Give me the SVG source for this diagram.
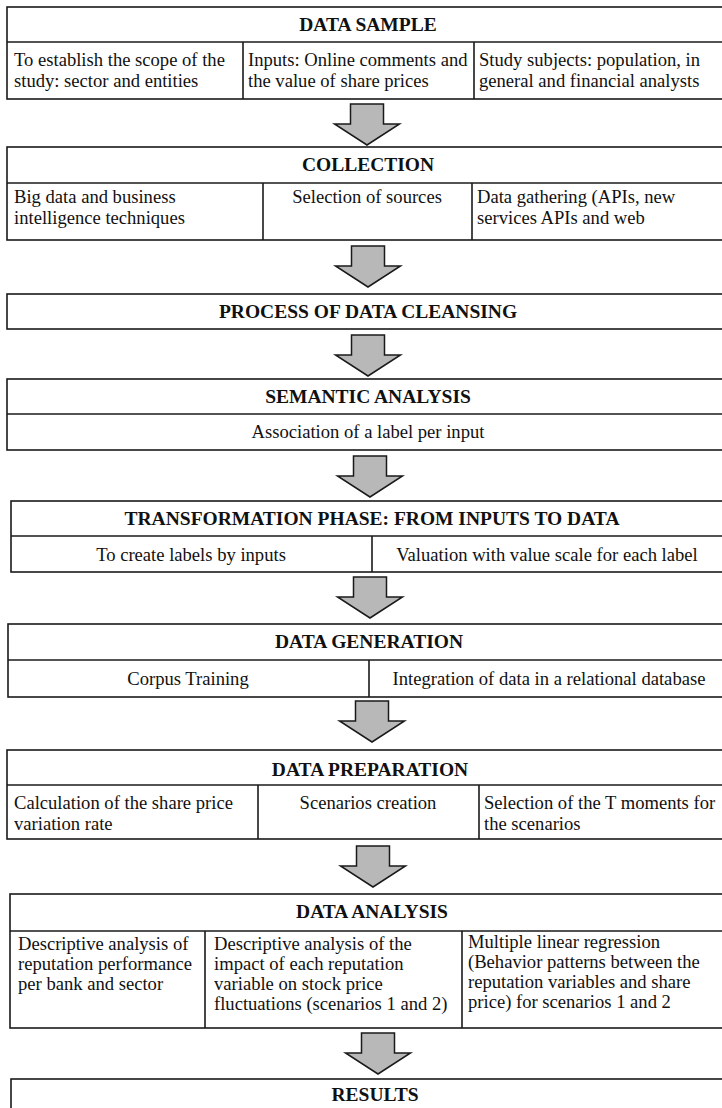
<svg xmlns="http://www.w3.org/2000/svg" width="722" height="1108" viewBox="0 0 722 1108">
<style>
.box{fill:#fff;stroke:#1a1a1a;stroke-width:1.6}
.ln{stroke:#1a1a1a;stroke-width:1.6;fill:none}
.hd{font-family:'Liberation Serif','Tinos','DejaVu Serif',serif;font-size:19.5px;font-weight:bold;fill:#111;text-anchor:middle}
.tx{font-family:'Liberation Serif','Tinos','DejaVu Serif',serif;font-size:18.6px;fill:#111}
.c{text-anchor:middle}
.arr{fill:#b8b8b8;stroke:#1a1a1a;stroke-width:1.5;stroke-linejoin:miter}
</style>
<rect width="722" height="1108" fill="#fff"/>
<defs>
<path id="arrow" d="M-16.5,0 H16.5 V20 H32.5 L0,41 L-32.5,20 H-16.5 Z"/>
</defs>

<g id="data-sample">
<rect class="box" x="7" y="7" width="730" height="92"/>
<line class="ln" x1="7" y1="42" x2="737" y2="42"/>
<line class="ln" x1="243" y1="42" x2="243" y2="99"/>
<line class="ln" x1="474" y1="42" x2="474" y2="99"/>
<text class="hd" x="368" y="31">DATA SAMPLE</text>
<text class="tx" x="14" y="66">To establish the scope of the</text>
<text class="tx" x="14" y="87">study: sector and entities</text>
<text class="tx" x="248" y="66">Inputs: Online comments and</text>
<text class="tx" x="248" y="87">the value of share prices</text>
<text class="tx" x="479" y="66">Study subjects: population, in</text>
<text class="tx" x="479" y="87">general and financial analysts</text>
</g>

<g id="collection">
<rect class="box" x="7" y="147" width="730" height="93"/>
<line class="ln" x1="7" y1="183" x2="737" y2="183"/>
<line class="ln" x1="263" y1="183" x2="263" y2="240"/>
<line class="ln" x1="472" y1="183" x2="472" y2="240"/>
<text class="hd" x="368" y="171">COLLECTION</text>
<text class="tx" x="14" y="203">Big data and business</text>
<text class="tx" x="14" y="224">intelligence techniques</text>
<text class="tx c" x="367" y="203">Selection of sources</text>
<text class="tx" x="477" y="203">Data gathering (APIs, new</text>
<text class="tx" x="477" y="224">services APIs and web</text>
</g>

<g id="data-cleansing">
<rect class="box" x="7" y="294" width="730" height="35"/>
<text class="hd" x="368" y="318">PROCESS OF DATA CLEANSING</text>
</g>

<g id="semantic-analysis">
<rect class="box" x="7" y="379" width="730" height="71"/>
<line class="ln" x1="7" y1="414" x2="737" y2="414"/>
<text class="hd" x="368" y="403">SEMANTIC ANALYSIS</text>
<text class="tx c" x="368" y="438">Association of a label per input</text>
</g>

<g id="transformation">
<rect class="box" x="11" y="501" width="730" height="71"/>
<line class="ln" x1="11" y1="536" x2="741" y2="536"/>
<line class="ln" x1="372" y1="536" x2="372" y2="572"/>
<text class="hd" x="372" y="525">TRANSFORMATION PHASE: FROM INPUTS TO DATA</text>
<text class="tx c" x="191" y="561">To create labels by inputs</text>
<text class="tx c" x="547" y="561">Valuation with value scale for each label</text>
</g>

<g id="data-generation">
<rect class="box" x="8" y="624" width="730" height="73"/>
<line class="ln" x1="8" y1="660" x2="738" y2="660"/>
<line class="ln" x1="369" y1="660" x2="369" y2="697"/>
<text class="hd" x="369" y="648">DATA GENERATION</text>
<text class="tx c" x="188" y="685">Corpus Training</text>
<text class="tx c" x="549" y="685">Integration of data in a relational  database</text>
</g>

<g id="data-preparation">
<rect class="box" x="7" y="750" width="730" height="89"/>
<line class="ln" x1="7" y1="785" x2="737" y2="785"/>
<line class="ln" x1="258" y1="785" x2="258" y2="839"/>
<line class="ln" x1="479" y1="785" x2="479" y2="839"/>
<text class="hd" x="370" y="776">DATA PREPARATION</text>
<text class="tx" x="14" y="809">Calculation  of the share price</text>
<text class="tx" x="14" y="830">variation rate</text>
<text class="tx c" x="368" y="809">Scenarios creation</text>
<text class="tx" x="484" y="809">Selection of the T moments for</text>
<text class="tx" x="484" y="830">the scenarios</text>
</g>

<g id="data-analysis">
<rect class="box" x="10" y="894" width="730" height="134"/>
<line class="ln" x1="10" y1="931" x2="740" y2="931"/>
<line class="ln" x1="205" y1="931" x2="205" y2="1028"/>
<line class="ln" x1="462" y1="931" x2="462" y2="1028"/>
<text class="hd" x="372" y="918">DATA ANALYSIS</text>
<text class="tx" x="18" y="950">Descriptive analysis of</text>
<text class="tx" x="18" y="970">reputation performance</text>
<text class="tx" x="18" y="990">per bank and sector</text>
<text class="tx" x="214" y="950">Descriptive analysis of the</text>
<text class="tx" x="214" y="970">impact of each reputation</text>
<text class="tx" x="214" y="990">variable on stock price</text>
<text class="tx" x="214" y="1010">fluctuations  (scenarios 1 and 2)</text>
<text class="tx" x="468" y="948">Multiple linear regression</text>
<text class="tx" x="468" y="968">(Behavior patterns between the</text>
<text class="tx" x="468" y="988">reputation variables and share</text>
<text class="tx" x="468" y="1008">price) for scenarios 1 and 2</text>
</g>

<g id="results">
<rect class="box" x="11" y="1079" width="730" height="40"/>
<text class="hd" x="375" y="1101">RESULTS</text>
</g>

<g id="connectors">
<use href="#arrow" class="arr" x="367" y="104"/>
<use href="#arrow" class="arr" x="368" y="246"/>
<use href="#arrow" class="arr" x="368" y="335"/>
<use href="#arrow" class="arr" x="370" y="456"/>
<use href="#arrow" class="arr" x="370" y="577"/>
<use href="#arrow" class="arr" x="372" y="701"/>
<use href="#arrow" class="arr" x="373" y="846"/>
<use href="#arrow" class="arr" x="378" y="1033"/>
</g>
</svg>
